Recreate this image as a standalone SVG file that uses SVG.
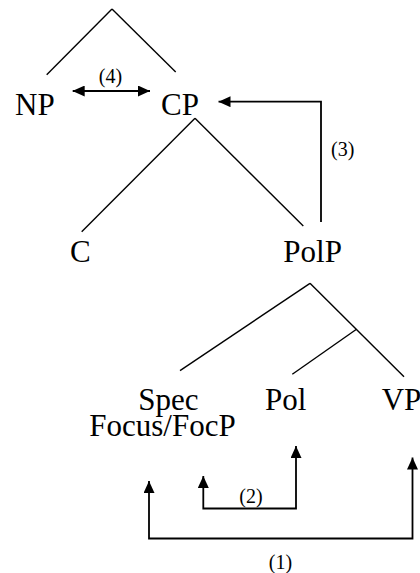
<svg xmlns="http://www.w3.org/2000/svg" width="420" height="573" viewBox="0 0 420 573">
<style>
  .lbl { font-size: 31px; fill: #000; }
  .num { font-size: 20px; fill: #000; }
  .edge { stroke: #000; stroke-width: 1.4; fill: none; }
  .arr { stroke: #000; stroke-width: 1.8; fill: none; }
</style>
<defs>
  <marker id="ah" viewBox="0 0 12 11" refX="12" refY="5.5" markerWidth="12" markerHeight="11" markerUnits="userSpaceOnUse" orient="auto-start-reverse">
    <path d="M0,0 L12,5.5 L0,11 z" fill="#000"/>
  </marker>
</defs>
<rect width="420" height="573" fill="#fff"/>
<g id="tree-edges">
  <line class="edge" x1="112" y1="9" x2="46.7" y2="74.7"/>
  <line class="edge" x1="112" y1="9" x2="175.7" y2="72"/>
  <line class="edge" x1="195" y1="118.3" x2="81.7" y2="231.7"/>
  <line class="edge" x1="195" y1="118.3" x2="303.3" y2="226"/>
  <line class="edge" x1="310" y1="283.3" x2="180" y2="370.7"/>
  <line class="edge" x1="310" y1="283.3" x2="404" y2="376.7"/>
  <line class="edge" x1="356.5" y1="329.3" x2="292.3" y2="374.3"/>
</g>
<g font-family="'Liberation Serif', 'Times New Roman', serif">
<g id="NP"><text class="lbl" x="15" y="115">NP</text></g>
<g id="CP"><text class="lbl" x="161" y="115">CP</text></g>
<g id="C"><text class="lbl" x="70" y="262">C</text></g>
<g id="PolP"><text class="lbl" x="283.3" y="262">PolP</text></g>
<g id="Spec"><text class="lbl"><tspan x="138.3" y="409.5">Spec</tspan><tspan x="89.3" y="436">Focus/FocP</tspan></text></g>
<g id="Pol"><text class="lbl" x="265" y="409.5">Pol</text></g>
<g id="VP"><text class="lbl" x="381.7" y="409.5">VP</text></g>
<g id="connectors">
  <line class="arr" x1="72.7" y1="91" x2="150" y2="91" marker-start="url(#ah)" marker-end="url(#ah)"/>
  <text class="num" x="110.5" y="83" text-anchor="middle">(4)</text>
  <polyline class="arr" points="321,222 321,101.7 218.5,101.7" marker-end="url(#ah)"/>
  <text class="num" x="331" y="156">(3)</text>
  <polyline class="arr" points="203.3,476 203.3,508.5 296,508.5 296,446" marker-start="url(#ah)" marker-end="url(#ah)"/>
  <text class="num" x="251" y="503" text-anchor="middle">(2)</text>
  <polyline class="arr" points="149,481 149,538.5 412.5,538.5 412.5,457.5" marker-start="url(#ah)" marker-end="url(#ah)"/>
  <text class="num" x="280.5" y="569" text-anchor="middle">(1)</text>
</g>
</g>
</svg>
